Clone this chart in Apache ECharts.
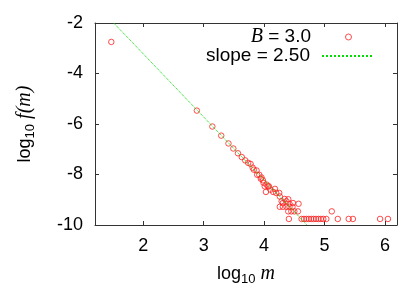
<!DOCTYPE html>
<html><head><meta charset="utf-8">
<script src="https://cdn.jsdelivr.net/npm/echarts@6/dist/echarts.min.js"></script>
<style>html,body{margin:0;padding:0;background:#fff}#c{width:415px;height:308px}</style>
</head><body><div id="c"></div>
<script>
// data: log10 m, log10 f(m)
const logM = [1.47,2.886,3.143,3.29,3.41,3.49,3.567,3.63,3.687,3.736,3.776,3.81,3.83,3.875,3.885,3.92,3.945,3.957,3.98,3.99,
  4.01,4.04,4.066,4.08,4.03,4.105,4.15,4.18,4.20,4.25,4.26,4.34,4.40,4.29,4.37,4.31,4.42,4.478,4.57,
  4.26,4.31,4.37,4.42,4.47,4.40,4.45,4.50,4.56,5.12,
  4.41,4.62,4.66,4.70,4.74,4.78,4.82,4.86,4.90,4.94,4.98,5.03,5.22,5.40,5.47,5.92,6.05];
const logF = [-2.75,-5.47,-6.10,-6.46,-6.77,-6.97,-7.16,-7.31,-7.44,-7.54,-7.58,-7.73,-7.81,-7.84,-8.01,-8.01,-8.17,-8.12,-8.23,-8.33,
  -8.47,-8.40,-8.47,-8.47,-8.69,-8.60,-8.69,-8.57,-8.73,-8.73,-8.87,-8.97,-8.98,-9.06,-9.06,-9.13,-9.16,-9.13,-9.16,
  -9.28,-9.28,-9.28,-9.28,-9.28,-9.46,-9.46,-9.46,-9.46,-9.46,
  -9.76,-9.76,-9.76,-9.76,-9.76,-9.76,-9.76,-9.76,-9.76,-9.76,-9.76,-9.76,-9.76,-9.76,-9.76,-9.76,-9.76];
// fitted slope line endpoints
const slopeX = [1.51, 4.71];
const slopeY = [-2.0, -10.0];
const xTicks = [2,3,4,5,6];
const yTicks = [-10,-8,-6,-4,-2];
const seriesNames = ['B = 3.0', 'slope = 2.50'];

const chart = echarts.init(document.getElementById('c'), null, {renderer:'canvas'});
const sans = 'Liberation Sans';
const serif = 'Liberation Serif';
const frame = {lineStyle:{color:'#333', width:1}};
const tick = {inside:true, length:4, lineStyle:{color:'#333'}};
const axisCommon = {splitLine:{show:false}};
const richName = {
  n:{fontFamily:sans, fontSize:18, color:'#000', lineHeight:24},
  s:{fontFamily:sans, fontSize:13, color:'#000', lineHeight:13, verticalAlign:'bottom'},
  i:{fontFamily:serif, fontStyle:'italic', fontSize:20, color:'#000', lineHeight:24}
};
chart.setOption({
  animation:false,
  grid:{left:95, right:18, top:23, bottom:83},
  xAxis:[
    Object.assign({type:'value', min:1.2, max:6.2, position:'bottom',
      axisLine:frame, axisTick:Object.assign({customValues:xTicks}, tick),
      axisLabel:{customValues:xTicks, margin:12, fontFamily:sans, fontSize:18, color:'#000'},
      name:'{n|log}{s|10}{i| m}', nameLocation:'middle', nameGap:37,
      nameTextStyle:{rich:richName}}, axisCommon),
    Object.assign({type:'value', min:1.2, max:6.2, position:'top',
      axisLine:frame, axisTick:Object.assign({customValues:xTicks}, tick),
      axisLabel:{show:false}}, axisCommon)
  ],
  yAxis:[
    Object.assign({type:'value', min:-10, max:-2, position:'left',
      axisLine:Object.assign({show:true}, frame), axisTick:Object.assign({show:true, customValues:yTicks}, tick),
      axisLabel:{customValues:yTicks, margin:12, fontFamily:sans, fontSize:18, color:'#000'},
      name:'{n|log}{s|10}{i| f(m)}', nameLocation:'middle', nameGap:58, nameRotate:90,
      nameTextStyle:{rich:richName}}, axisCommon),
    Object.assign({type:'value', min:-10, max:-2, position:'right',
      axisLine:Object.assign({show:true}, frame), axisTick:Object.assign({show:true, customValues:yTicks}, tick),
      axisLabel:{show:false}}, axisCommon)
  ],
  legend:[
    {data:[{name:seriesNames[0], icon:'circle'}], right:63, top:27, orient:'vertical', align:'right', padding:0,
     itemWidth:51, itemHeight:6,
     itemStyle:{color:'rgba(0,0,0,0)', borderColor:'#ff2020', borderWidth:1},
     textStyle:{fontFamily:sans, fontSize:19, color:'#000', lineHeight:20, padding:[0,7,0,0],
       rich:{i:{fontFamily:serif, fontStyle:'italic', fontSize:20, color:'#000', lineHeight:20},
             t:{fontFamily:sans, fontSize:19, color:'#000', lineHeight:20}}},
     formatter:function(){return '{i|B}{t| = 3.0}';}},
    {data:[seriesNames[1]], right:41, top:46, orient:'vertical', align:'right', padding:0,
     itemWidth:51, itemHeight:10,
     itemStyle:{opacity:0},
     textStyle:{fontFamily:sans, fontSize:19, color:'#000', lineHeight:20, padding:[0,7,0,0]}}
  ],
  series:[
    {name:seriesNames[0], type:'scatter', xAxisIndex:0, yAxisIndex:0,
     symbol:'circle', symbolSize:5.5,
     itemStyle:{color:'rgba(0,0,0,0)', borderColor:'#ff2020', borderWidth:1},
     data:logM.map((x,k)=>[x, logF[k]])},
    {name:seriesNames[1], type:'line', xAxisIndex:0, yAxisIndex:0, symbol:'none',
     lineStyle:{color:'#00dd00', width:1, type:'dotted'},
     itemStyle:{color:'#00dd00'},
     data:slopeX.map((x,k)=>[x, slopeY[k]])}
  ]
});
</script></body></html>
